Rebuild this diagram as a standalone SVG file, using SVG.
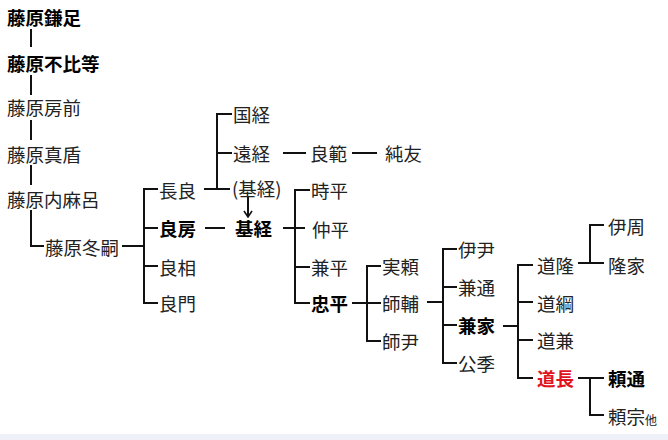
<svg xmlns="http://www.w3.org/2000/svg" width="668" height="440" viewBox="0 0 668 440">
<style>
text{font-family:"Noto Sans CJK JP","Noto Sans CJK SC",sans-serif;font-size:18.5px;fill:#222;dominant-baseline:central}
.b{font-weight:bold;fill:#000}
.r{fill:#e0141e}
.s{font-size:12px}
.ln{fill:none;stroke:#111;stroke-width:2}
</style>
<defs>
<marker id="ah" viewBox="0 0 10 10" refX="9" refY="5" markerWidth="10" markerHeight="10" markerUnits="userSpaceOnUse" orient="auto">
<path d="M3,1 L9,5 L3,9" fill="none" stroke="#111" stroke-width="1.6"/>
</marker>
</defs>
<rect x="0" y="0" width="668" height="440" fill="#fff"/>
<rect x="0" y="434" width="668" height="6" fill="#eef1f7"/>
<g id="connectors" class="ln">
<path d="M31,29 V47 M31,75 V95 M31,120 V140 M31,165 V185 M31,210 V246 H44"/>
<path d="M122,246 H144 M158,189 H144 V303 H158 M144,228 H158 M144,266 H158"/>
<path d="M204,189 H230 M217,189 V114 H232 M217,153 H232"/>
<path d="M283,153 H306 M352,153 H377"/>
<path d="M248,197 V217" marker-end="url(#ah)"/>
<path d="M205,228 H225"/>
<path d="M283,228 H305 M310,190 H295 V303 H310 M295,267 H310"/>
<path d="M352,303 H381 M381,266 H367 V341 H381"/>
<path d="M427,302 H443 M457,249 H443 V363 H457 M443,287 H457 M443,325 H457"/>
<path d="M503,326 H518 M533,265 H518 V378 H533 M518,302 H533 M518,340 H533"/>
<path d="M578,263 H604 M590,263 V225 H604"/>
<path d="M578,378 H604 M590,378 V415 H604"/>
</g>
<g id="kamatari"><text x="7" y="17" class="b">藤原鎌足</text></g>
<g id="fuhito"><text x="7" y="63" class="b">藤原不比等</text></g>
<g id="fusasaki"><text x="7" y="107">藤原房前</text></g>
<g id="matate"><text x="7" y="154">藤原真盾</text></g>
<g id="uchimaro"><text x="7" y="199">藤原内麻呂</text></g>
<g id="fuyutsugu"><text x="45" y="247">藤原冬嗣</text></g>
<g id="nagara"><text x="159" y="190">長良</text></g>
<g id="yoshifusa"><text x="159" y="228" class="b">良房</text></g>
<g id="yoshimi"><text x="159" y="267">良相</text></g>
<g id="yoshikado"><text x="159" y="303">良門</text></g>
<g id="kunitsune"><text x="233" y="114">国経</text></g>
<g id="tootsune"><text x="233" y="153">遠経</text></g>
<g id="yoshinori"><text x="310" y="153">良範</text></g>
<g id="sumitomo"><text x="385" y="153">純友</text></g>
<g id="mototsune-ref"><text x="232" y="188">(基経)</text></g>
<g id="mototsune"><text x="235" y="228" class="b">基経</text></g>
<g id="tokihira"><text x="311" y="190">時平</text></g>
<g id="nakahira"><text x="312" y="229">仲平</text></g>
<g id="kanehira"><text x="311" y="267">兼平</text></g>
<g id="tadahira"><text x="311" y="303" class="b">忠平</text></g>
<g id="saneyori"><text x="382" y="266">実頼</text></g>
<g id="morosuke"><text x="382" y="303">師輔</text></g>
<g id="morotada"><text x="382" y="341">師尹</text></g>
<g id="koretada"><text x="458" y="249">伊尹</text></g>
<g id="kanemichi"><text x="458" y="287">兼通</text></g>
<g id="kaneie"><text x="458" y="325" class="b">兼家</text></g>
<g id="kinsue"><text x="458" y="363">公季</text></g>
<g id="michitaka"><text x="537" y="265">道隆</text></g>
<g id="michitsuna"><text x="537" y="303">道綱</text></g>
<g id="michikane"><text x="537" y="340">道兼</text></g>
<g id="michinaga"><text x="537" y="378" class="b r">道長</text></g>
<g id="korechika"><text x="608" y="226">伊周</text></g>
<g id="takaie"><text x="608" y="265">隆家</text></g>
<g id="yorimichi"><text x="608" y="378" class="b">頼通</text></g>
<g id="yorimune"><text x="608" y="416">頼宗<tspan class="s" dy="3">他</tspan></text></g>
</svg>
